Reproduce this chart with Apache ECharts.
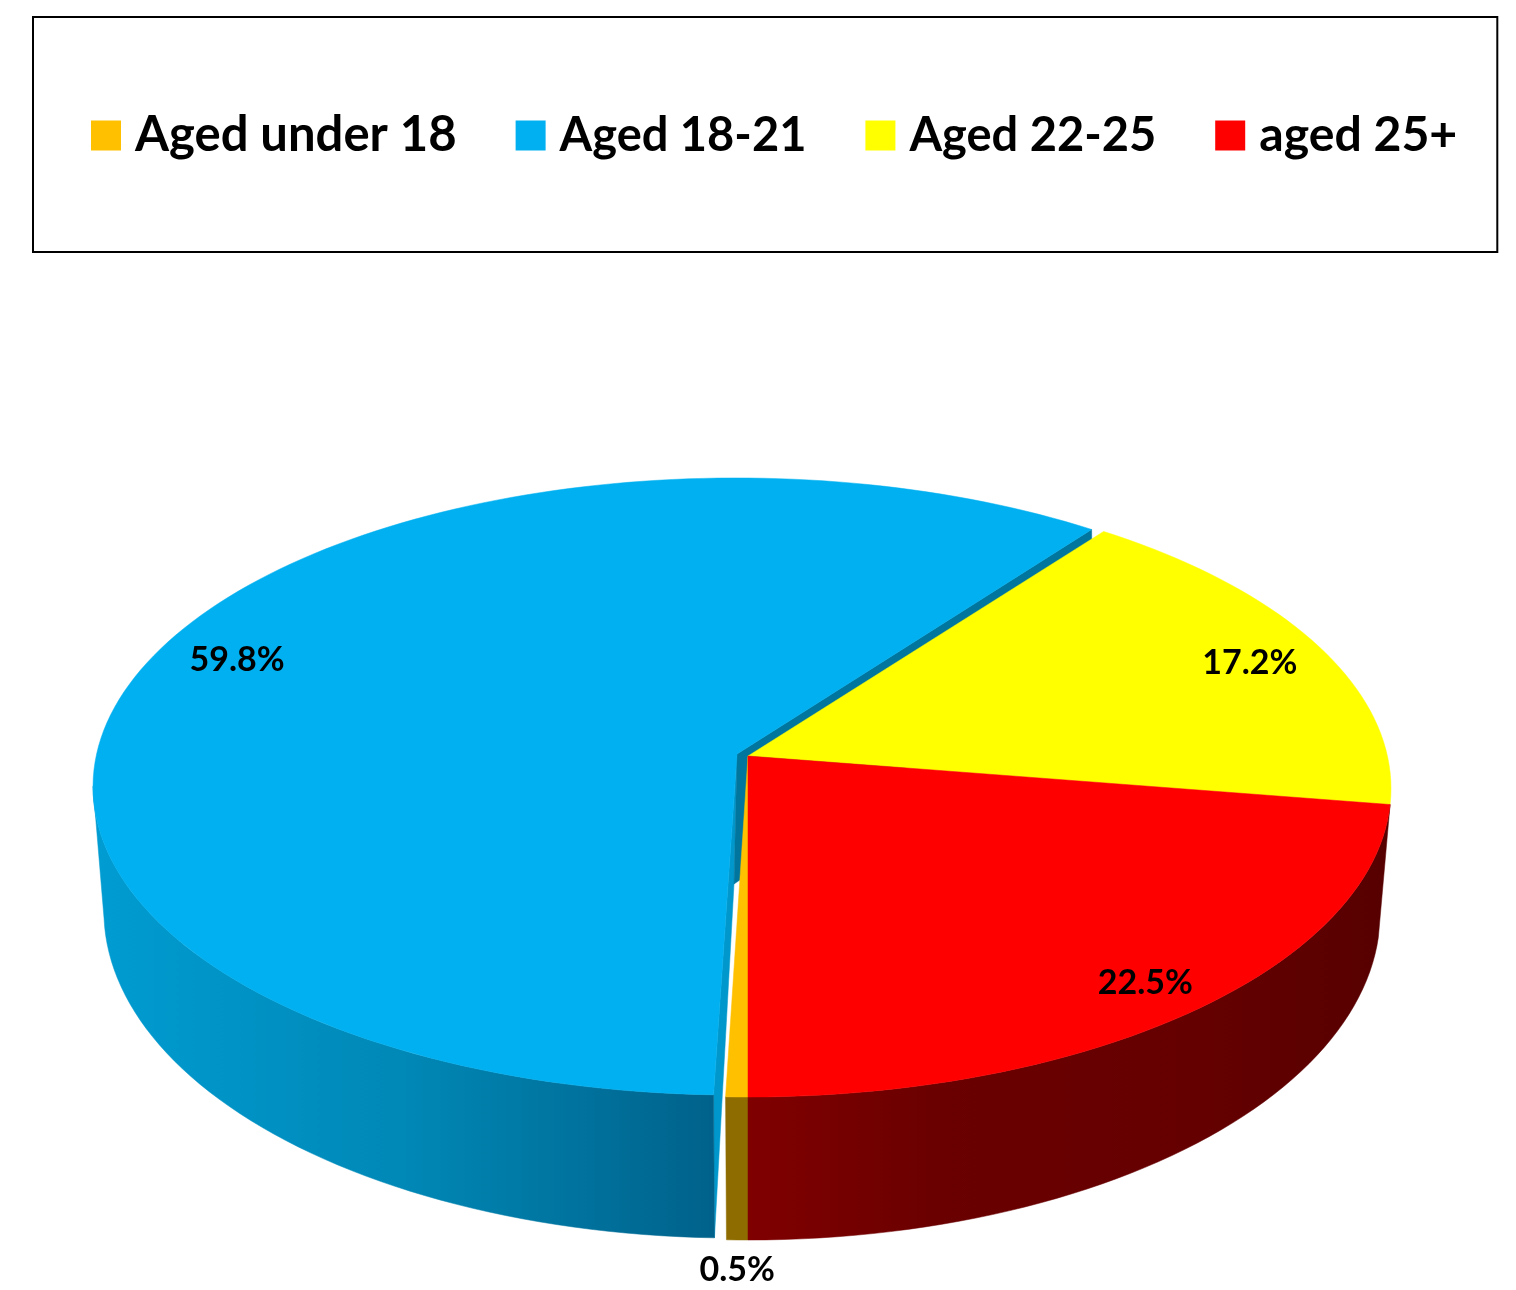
<!DOCTYPE html>
<html>
<head>
<meta charset="utf-8">
<style>html,body{margin:0;padding:0;background:#fff}#c{width:1516px;height:1290px}</style>
<script src="https://cdn.jsdelivr.net/npm/echarts@6/dist/echarts.min.js"></script>
</head>
<body>
<div id="c"></div>
<script>
const ageGroups = ['Aged under 18', 'Aged 18-21', 'Aged 22-25', 'aged 25+'];
const agePercents = [0.5, 59.8, 17.2, 22.5];
const ageColors = ['#FFC000', '#00B0F0', '#FFFF00', '#FF0000'];
const legendFontSizes = [49, 47, 47, 48.2];

// projection of the tilted disc (perspective)
const upper = {cx: 748, cy: 756, a: 639.4, b: 305.1, k: 0.1053};
const lower = {cx: 748, cy: 886, a: 630, b: 325, k: 0.082};
const lowerApex = {x: 746, y: 886};
const total = agePercents.reduce((s, v) => s + v, 0);
const firstAngle = 180; // clockwise from 12 o'clock

const sliceStyle = [
  {z: 4, shift: [0, 0], wall: '#8F6C00', labelR: 1, outside: true, labelTurn: 0},
  {z: 2, shift: [-12, -2], labelR: 0.867, labelTurn: 2.1,
   wall: {type: 'linear', global: true, x: 93, y: 0, x2: 713, y2: 0, colorStops: [
     {offset: 0, color: '#009CD2'}, {offset: 0.5, color: '#0088B6'}, {offset: 1, color: '#00628B'}]}},
  {z: 3, shift: [0, 0], labelR: 0.87, labelTurn: 0.7},
  {z: 5, shift: [0, 0], labelR: 0.90, labelTurn: 0.7,
   wall: {type: 'linear', global: true, x: 748, y: 0, x2: 1385, y2: 0, colorStops: [
     {offset: 0, color: '#800000'}, {offset: 0.3, color: '#6A0000'}, {offset: 0.7, color: '#650000'}, {offset: 1, color: '#570000'}]}}
];

function proj(p, deg, r, shift) {
  const t = deg * Math.PI / 180, u = r * Math.sin(t), v = -r * Math.cos(t), w = 1 - p.k * v;
  return [p.cx + p.a * u / w + shift[0], p.cy + p.b * v / w + shift[1]];
}
function arc(p, from, to, shift) {
  const pts = [], n = Math.max(2, Math.ceil(Math.abs(to - from) / 1.5));
  for (let i = 0; i <= n; i++) pts.push(proj(p, from + (to - from) * i / n, 1, shift));
  return pts;
}

function renderSlice(params, api) {
  const idx = params.seriesIndex, st = sliceStyle[idx];
  const from = firstAngle + api.value(0) / total * 360;
  const to = from + api.value(1) / total * 360;
  const s = st.shift;
  const nudge = idx === 1 ? 1 : 0;
  const top = [upper.cx + s[0] + nudge, upper.cy + s[1]];
  const low = [lowerApex.x + s[0], lowerApex.y + s[1]];
  const kids = [];
  const poly = (points, fill) => kids.push({type: 'polygon', shape: {points}, style: {fill, stroke: fill, lineWidth: 0.5}});
  if (idx === 1) {
    // cut faces of the pulled-out slice
    poly([top, proj(upper, from, 1, s), proj(lower, from, 1, s), low], '#0098CC');
    poly([top, proj(upper, to, 1, s), proj(lower, to, 1, s), low], '#00769F');
  }
  if (st.wall) {
    // the wall faces the viewer only between the disc's left and right silhouettes
    const a = Math.max(from, 80), b = idx === 1 ? Math.min(to, 264) : to;
    poly(arc(upper, a, b, s).concat(arc(lower, b, a, s)), st.wall);
  }
  poly([top].concat(arc(upper, from, to, s)), ageColors[idx]);
  // label
  const mid = (from + to) / 2 + st.labelTurn;
  const at = st.outside ? proj(lower, mid, 1, [s[0], 30]) : proj(upper, mid, st.labelR, s);
  kids.push({type: 'text', x: at[0], y: at[1], z2: 50, style: {
    text: agePercents[idx].toFixed(1) + '%', fill: '#000', align: 'center', verticalAlign: 'middle',
    font: 'bold 34px Lato'}});
  return {type: 'group', children: kids};
}

let running = 0;
const series = ageGroups.map((name, i) => {
  const item = [running, agePercents[i]];
  running += agePercents[i];
  return {
    type: 'custom', name, coordinateSystem: 'none', silent: true, z: sliceStyle[i].z,
    itemStyle: {color: ageColors[i]}, data: [item], renderItem: renderSlice, clip: false
  };
});

const legendText = size => ({fontFamily: 'Lato', fontWeight: 'bold', fontSize: size, color: '#000', padding: [0, 0, 0, 9]});
const chart = echarts.init(document.getElementById('c'), null, {renderer: 'canvas'});
chart.setOption({
  animation: false,
  backgroundColor: '#fff',
  legend: {
    data: ageGroups.map((name, i) => ({name, textStyle: legendText(legendFontSizes[i])})),
    icon: 'rect', left: 33, top: 17, orient: 'horizontal',
    itemWidth: 30, itemHeight: 30, itemGap: 59,
    padding: [94, 40, 92, 58], borderColor: '#000', borderWidth: 2,
    textStyle: legendText(48),
    selectedMode: false
  },
  series
});
</script>
</body>
</html>
